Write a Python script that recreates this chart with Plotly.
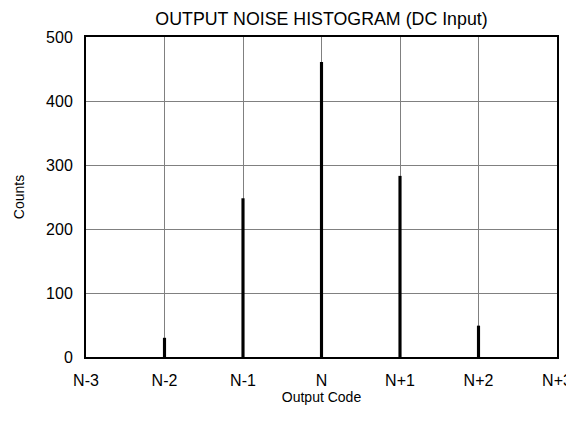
import plotly.graph_objects as go

codes = [-3, -2, -1, 0, 1, 2, 3]
code_labels = ["N-3", "N-2", "N-1", "N", "N+1", "N+2", "N+3"]
counts = [0, 30, 248, 461, 283, 49, 0]
count_ticks = [0, 100, 200, 300, 400, 500]

fig = go.Figure()
fig.add_trace(go.Bar(x=codes, y=counts, width=0.04,
                     marker=dict(color="black", line=dict(width=0))))

# page body has an 8px margin; figure is sized/offset to compensate
W, H = 566, 400
font = "Liberation Sans, Arial, sans-serif"
fig.update_layout(
    width=W, height=H,
    margin=dict(l=78, r=17, t=29, b=51, autoexpand=False),
    paper_bgcolor="white", plot_bgcolor="white",
    showlegend=False,
    font=dict(family=font, color="black", size=16),
    title=dict(text="OUTPUT NOISE HISTOGRAM (DC Input)", x=(78 + 549) / 2 / W, xanchor="center",
               y=1 - 11 / H, yanchor="middle", font=dict(size=17.8, family=font, color="black")),
)
fig.update_xaxes(
    range=[-3, 3], tickvals=codes, ticktext=code_labels,
    showgrid=True, gridcolor="#808080", gridwidth=1,
    showline=True, linecolor="black", linewidth=2, mirror=True,
    ticks="", ticklen=0, ticklabelstandoff=8, ticklabeloverflow="allow", automargin=False,
    title=dict(text="Output Code", font=dict(size=14), standoff=4),
    zeroline=False,
)
fig.update_yaxes(
    range=[0, 500], tickvals=count_ticks,
    showgrid=True, gridcolor="#808080", gridwidth=1,
    showline=True, linecolor="black", linewidth=2, mirror=True,
    ticks="", ticklen=0, ticklabelstandoff=8, automargin=False,
    title=dict(text="Counts", font=dict(size=14), standoff=18),
    zeroline=False,
)
fig.write_html("out.html")
